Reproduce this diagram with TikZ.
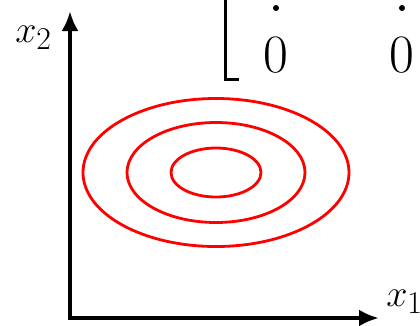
\documentclass[tikz,border=0pt]{standalone}
\usepackage{amsmath,amssymb}
\usepackage{tikz}
\usetikzlibrary{positioning,calc,arrows.meta}
\usepackage{xcolor}

\begin{document}
\begin{tikzpicture}[x=1pt,y=-1pt,
    axis/.style={line width=4pt,-{Latex[length=20pt,width=17pt]}},
    contour/.style={draw=red,line width=2.8pt},
    axlabel/.style={font=\Huge,scale=1.53,inner sep=0pt},
    entry/.style={font=\fontsize{54}{54}\selectfont,inner sep=0pt}]
\useasboundingbox (0,0) rectangle (420,325);
% axes
\coordinate (origin) at (70,318);
\coordinate (ytip) at (70,11);
\coordinate (xtip) at (379,318);
\draw[axis] ($(origin)+(0,2)$) -- (ytip);
\draw[axis] ($(origin)+(-2,0)$) -- (xtip);
\node[axlabel,anchor=base west] (xtwo) at (15,42) {$x_2$};
\node[axlabel,anchor=base west] (xone) at (386,306) {$x_1$};
% level curves
\coordinate (centre) at (216,172.5);
\foreach \rx/\ry in {133/74,89/50,45/24.5} {
    \draw[contour] (centre) ellipse ({\rx} and {\ry});
}
% piece of the matrix
\draw[line width=3pt] (225,-2) -- (225,79) -- (239,79);
\foreach \cx/\nm in {276/zeroa,402/zerob} {
    \fill (\cx,8) circle (3);
    \node[entry,anchor=base] (\nm) at (\cx,72) {0};
}
\end{tikzpicture}
\end{document}
